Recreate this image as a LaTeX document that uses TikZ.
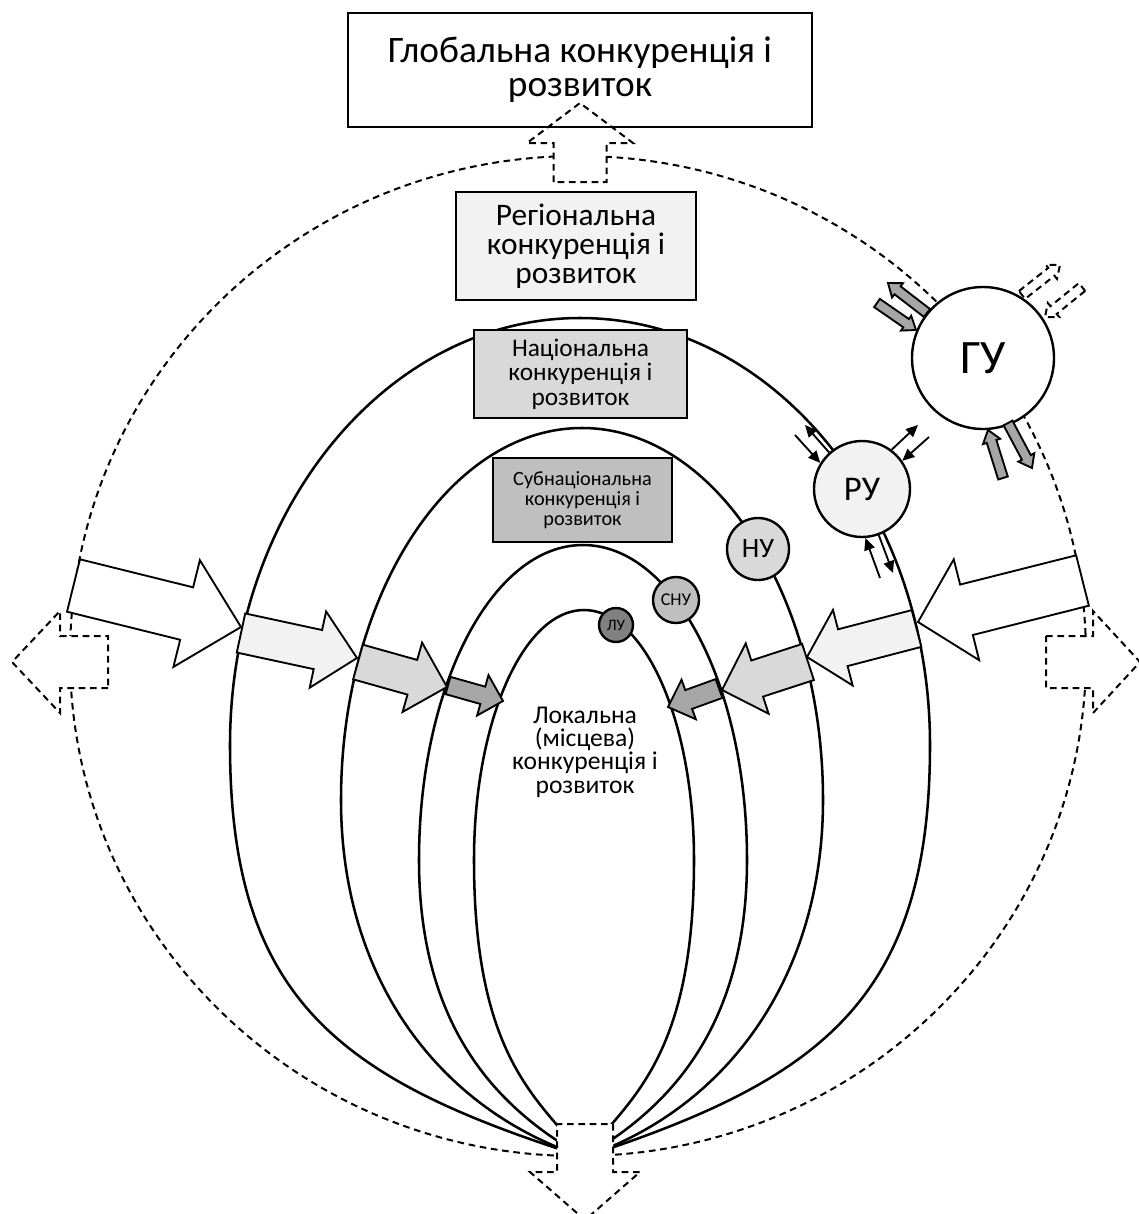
\documentclass[tikz,border=0pt]{standalone}
\usepackage{fontspec}
\setmainfont{Carlito}
\usetikzlibrary{arrows.meta, calc}

\definecolor{grey1}{RGB}{242, 242, 242}
\definecolor{grey2}{RGB}{217, 217, 217}
\definecolor{grey3}{RGB}{191, 191, 191}
\definecolor{grey4}{RGB}{166, 166, 166}
\definecolor{grey5}{RGB}{128, 128, 128}

\tikzset{
  level/.style={line width=1.9pt},
  dashline/.style={line width=1.5pt, dash pattern=on 5pt off 3.5pt},
  levelbox/.style={draw, line width=1.4pt, align=center, inner sep=2pt},
  unit/.style={draw, circle, line width=1.8pt, inner sep=0pt},
  blockfill/.style={draw, line width=1.4pt},
  thinarrow/.style={line width=1.4pt, -{Triangle[length=9pt, width=8pt]}},
}

% block arrow: style, tail, tip, shaft half-width, head half-width, head length (px)
\newcommand{\blockarrow}[6]{%
  \path ($(#3)!#6*0.75pt!(#2)$) coordinate (hb);
  \draw[#1] ($(#2)!#4*0.75pt!90:(#3)$) -- ($(hb)!#4*0.75pt!90:(#3)$)
    -- ($(hb)!#5*0.75pt!90:(#3)$) -- (#3) -- ($(hb)!#5*0.75pt!-90:(#3)$)
    -- ($(hb)!#4*0.75pt!-90:(#3)$) -- ($(#2)!#4*0.75pt!-90:(#3)$) -- cycle;
}

\begin{document}
\begin{tikzpicture}[x=0.75pt, y=-0.75pt]
  \useasboundingbox (0,0) rectangle (1139,1214);

  % Global level
  \draw[dashline] (578,656) ellipse [x radius=508, y radius=500];

  % Regional level
  \draw[level] (584,1157) .. controls (340,1080) and (230,1000) .. (230,745)
    .. controls (230,509) and (387,318) .. (580,318)
    .. controls (773,318) and (930,509) .. (930,745)
    .. controls (930,1000) and (820,1080) .. (584,1157);
  % National level
  \draw[level] (584,1157) .. controls (440,1110) and (341,980) .. (341,800)
    .. controls (341,595) and (449,428) .. (582,428)
    .. controls (715,428) and (823,595) .. (823,800)
    .. controls (823,980) and (724,1110) .. (584,1157);
  % Subnational level
  \draw[level] (584,1157) .. controls (500,1110) and (419,1030) .. (419,860)
    .. controls (419,686) and (492,545) .. (583,545)
    .. controls (674,545) and (747,686) .. (747,860)
    .. controls (747,1030) and (666,1110) .. (584,1157);
  % Local level
  \draw[level] (584,1157) .. controls (540,1100) and (474,1060) .. (474,860)
    .. controls (474,722) and (523,610) .. (584,610)
    .. controls (645,610) and (694,722) .. (694,860)
    .. controls (694,1060) and (628,1100) .. (584,1157);

  % Dashed outlets of the global level
  \blockarrow{dashline, fill=white}{580,182}{580,103}{26.5}{53}{40}
  \blockarrow{dashline, fill=white}{108,662}{12,662}{26}{51}{48}
  \blockarrow{dashline, fill=white}{1046,662}{1140,662}{26}{51}{47}
  \blockarrow{dashline, fill=white}{585,1124}{585,1220}{28}{55}{48}

  % Level boxes
  \node[levelbox, minimum width=348pt, minimum height=85.5pt, font=\fontsize{28}{25.5}\selectfont] (global) at (580,70) {Глобальна конкуренція і\\розвиток};
  \node[levelbox, fill=grey1, minimum width=180pt, minimum height=81pt, font=\fontsize{23.5}{21.75}\selectfont] (regional) at (576,246) {Регіональна\\конкуренція і\\розвиток};
  \node[levelbox, fill=grey2, minimum width=160pt, minimum height=66pt, font=\fontsize{19}{18.5}\selectfont] (national) at (580.5,374) {Національна\\конкуренція і\\розвиток};
  \node[levelbox, fill=grey3, minimum width=134pt, minimum height=63pt, font=\fontsize{15.2}{15}\selectfont] (subnational) at (582.5,500) {Субнаціональна\\конкуренція і\\розвиток};
  \node[align=center, font=\fontsize{19.2}{17.5}\selectfont] (local) at (585,752) {Локальна\\(місцева)\\конкуренція і\\розвиток};

  % Inflow from the left
  \blockarrow{blockfill, fill=white}{73.5,585.5}{241,627}{27}{55}{56}
  \blockarrow{blockfill, fill=grey1}{241,633}{357,658}{20}{39}{40}
  \blockarrow{blockfill, fill=grey2}{358,662}{447,687}{18}{36}{36}
  \blockarrow{blockfill, fill=grey4}{448,685.5}{503,701}{9}{21}{21}

  % Inflow from the right
  \blockarrow{blockfill, fill=white}{1082.5,580.5}{918,622}{26}{52}{50}
  \blockarrow{blockfill, fill=grey1}{916.5,628.5}{807,657}{19}{39}{37}
  \blockarrow{blockfill, fill=grey2}{808,662}{722,690}{19}{37}{37}
  \blockarrow{blockfill, fill=grey4}{719,688.5}{668,707}{10}{21}{22}

  % Units
  \node[unit, fill=white, minimum size=106.5pt, font=\fontsize{36}{36}\selectfont] (gu) at (983,358) {ГУ};
  \node[unit, fill=grey1, minimum size=72pt, font=\fontsize{26}{26}\selectfont] (ru) at (862,489) {РУ};
  \node[unit, fill=grey2, minimum size=46.5pt, font=\fontsize{21}{21}\selectfont] (nu) at (758,549) {НУ};
  \node[unit, fill=grey3, minimum size=34.5pt, font=\fontsize{13.5}{13.5}\selectfont] (snu) at (676,600) {СНУ};
  \node[unit, fill=grey5, minimum size=25.5pt, font=\fontsize{12}{12}\selectfont] (lu) at (616,625) {ЛУ};

  % Exchange of the global unit
  \blockarrow{blockfill, fill=grey4}{927,313}{888,283}{5}{9}{12}
  \blockarrow{blockfill, fill=grey4}{877,303}{916,330}{5}{9}{12}
  \blockarrow{blockfill, fill=grey4}{1008,423}{1032,468}{5}{9}{12}
  \blockarrow{blockfill, fill=grey4}{1003,478}{988,430}{5}{9}{12}
  \blockarrow{dashline, fill=white}{1022,295}{1060,265}{5}{9}{11}
  \blockarrow{dashline, fill=white}{1082,287}{1045,317}{5}{9}{11}

  % Exchange of the regional unit
  \coordinate (ru-nw-out) at (805,425);
  \coordinate (ru-nw-in) at (795,435);
  \coordinate (ru-ne-out) at (918,425);
  \coordinate (ru-ne-in) at (929,437);
  \coordinate (ru-s-in) at (880,578);
  \coordinate (ru-s-out) at (893,573);
  \draw[thinarrow] (ru.132) -- (ru-nw-out);
  \draw[thinarrow] (ru-nw-in) -- (ru.148);
  \draw[thinarrow] (ru.53) -- (ru-ne-out);
  \draw[thinarrow] (ru-ne-in) -- (ru.35);
  \draw[thinarrow] (ru-s-in) -- (ru.-86);
  \draw[thinarrow] (ru.-70) -- (ru-s-out);
\end{tikzpicture}
\end{document}
